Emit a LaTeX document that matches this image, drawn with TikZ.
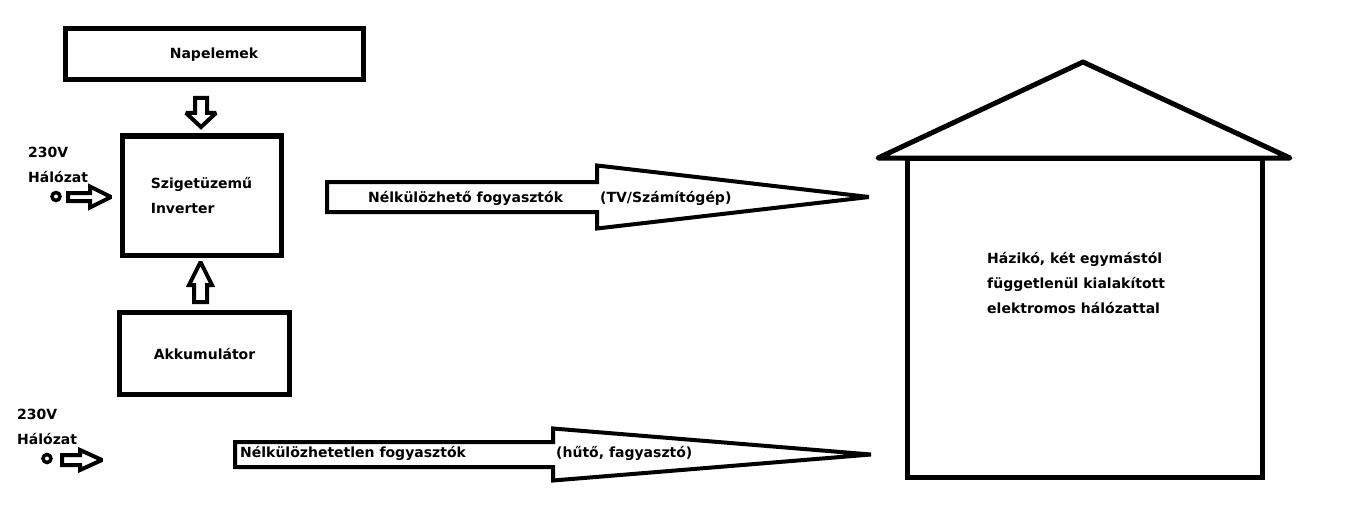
\documentclass[tikz,border=0pt]{standalone}
\usepackage{fontspec}
\setmainfont{DejaVu Sans}
\usepackage{tikz}
\usetikzlibrary{calc,positioning}

% hollow block arrow: from, tip, half shaft, half head, head length
\newcommand{\blockarrow}[5]{%
  \path ($(#2)!#5!(#1)$) coordinate (hb);
  \draw[arrowline] ($(#1)!#3!90:(#2)$) -- ($(hb)!#3!90:(#2)$)
    -- ($(hb)!#4!90:(#2)$) -- (#2) -- ($(hb)!#4!-90:(#2)$)
    -- ($(hb)!#3!-90:(#2)$) -- ($(#1)!#3!-90:(#2)$) -- cycle;
}

\begin{document}
\begin{tikzpicture}[x=1pt,y=-1pt,
  font=\fontsize{14}{25}\selectfont\bfseries,
  box/.style={draw,line width=5pt,inner sep=0pt,align=left},
  lbl/.style={inner sep=0pt,anchor=west,align=left},
  plug/.style={draw,circle,line width=3.5pt,minimum size=8pt,inner sep=0pt},
  arrowline/.style={draw,line width=4pt,line join=miter,miter limit=2,fill=white},
  house/.style={line width=5pt,line join=round}]
  \useasboundingbox (0,0) rectangle (1359,508);

  \node[box,minimum width=298pt,minimum height=51pt] (napelem) at (214,54.5) {Napelemek};
  \node[box,minimum width=159pt,minimum height=119pt] (inverter) at (201.5,195.5) {Szigetüzemű\\Inverter};
  \node[box,minimum width=170pt,minimum height=82pt] (akku) at (204.5,353.5) {Akkumulátor};

  % house
  \node[draw,line width=5pt,inner sep=0pt,minimum width=354.5pt,minimum height=319.5pt] (hazi) at (1084.75,317.75) {};
  \coordinate (roofL) at (878,158);
  \coordinate (roofR) at (1290,158);
  \coordinate (apex) at (1083,62);
  \draw[house] (roofL) -- (apex) -- (roofR) -- cycle;
  \node[lbl] (hazitext) at (987,283) {Házikó, két egymástól\\függetlenül kialakított\\elektromos hálózattal};

  % grid inputs
  \node[lbl] (halo1) at (28,165) {230V\\Hálózat};
  \node[plug] (dugo1) at (56,196.5) {};
  \node[lbl] (halo2) at (17,427) {230V\\Hálózat};
  \node[plug] (dugo2) at (47,458.5) {};

  \coordinate (a1s) at (68,197);   \coordinate (a1t) at (111,197);
  \coordinate (a2s) at (62,460);   \coordinate (a2t) at (102,460);
  \coordinate (dns) at (201,98);   \coordinate (dnt) at (201,127);
  \coordinate (ups) at (200.5,302); \coordinate (upt) at (200.5,262);
  \coordinate (b1s) at (327,197);  \coordinate (b1t) at (869,197);
  \coordinate (b2s) at (235,454.5); \coordinate (b2t) at (871,454.5);

  \blockarrow{a1s}{a1t}{4pt}{10.5pt}{21pt}
  \blockarrow{a2s}{a2t}{5pt}{10pt}{22pt}
  \blockarrow{dns}{dnt}{6pt}{15pt}{14pt}
  \blockarrow{ups}{upt}{6.5pt}{11.5pt}{23pt}
  \blockarrow{b1s}{b1t}{15pt}{31.5pt}{272pt}
  \blockarrow{b2s}{b2t}{12.5pt}{26pt}{318pt}

  \node[lbl] (fogy1) at (368,198) {Nélkülözhető fogyasztók};
  \node[lbl] (tv) at (600,198) {(TV/Számítógép)};
  \node[lbl] (fogy2) at (240,453) {Nélkülözhetetlen fogyasztók};
  \node[lbl] (huto) at (556,453) {(hűtő, fagyasztó)};
\end{tikzpicture}
\end{document}
